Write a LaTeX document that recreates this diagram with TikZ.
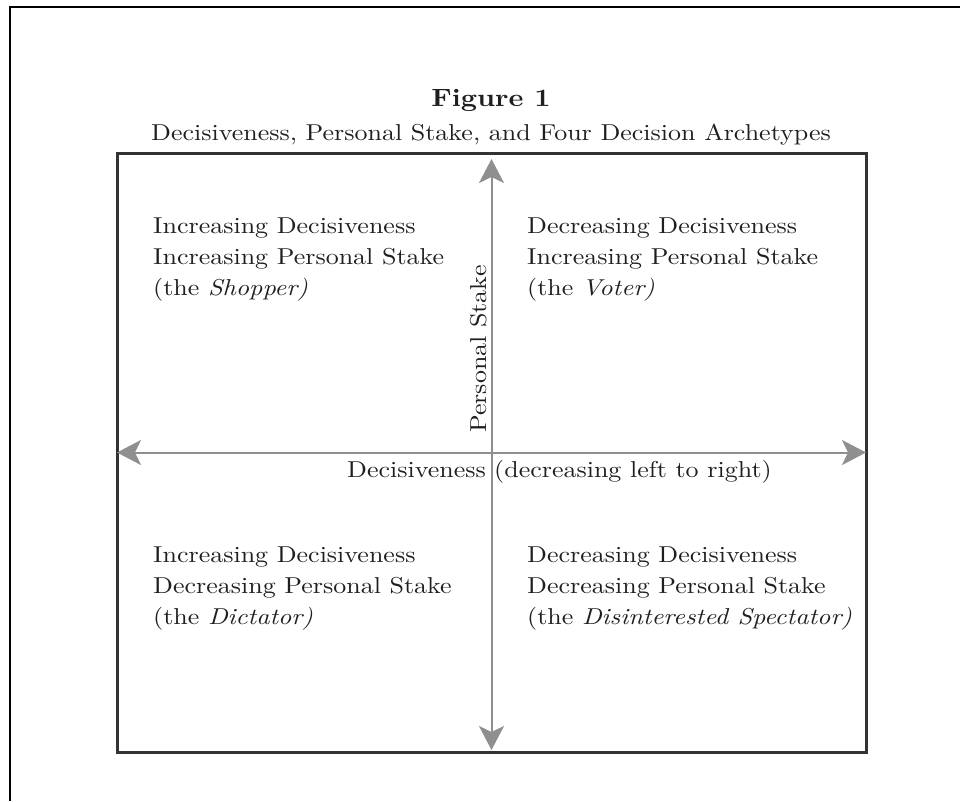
\documentclass[tikz,border=0pt]{standalone}
\usepackage{fontspec}
\setmainfont{lmroman10-regular.otf}[
  FakeStretch=1.13,
  BoldFont=lmroman10-bold.otf,
  ItalicFont=lmroman10-italic.otf,
  BoldItalicFont=lmroman10-bolditalic.otf]
\usetikzlibrary{arrows.meta}
\definecolor{inkgray}{gray}{0.12}
\definecolor{framegray}{gray}{0.2}
\definecolor{axisgray}{gray}{0.56}
\begin{document}
\begin{tikzpicture}[x=1pt,y=-1pt]

		\tikzset{
		  quadtext/.style={
			anchor=north west,
			align=left,
			inner sep=0pt,
			text=inkgray,
			font=\fontsize{23}{31}\selectfont,
		  },
		  axislabel/.style={
			inner sep=0pt,
			text=inkgray,
			font=\fontsize{23}{31}\selectfont,
		  },
		  axis/.style={
			draw=axisgray,
			line width=2pt,
			{Stealth[length=24pt,width=25pt,inset=6pt]}-{Stealth[length=24pt,width=25pt,inset=6pt]},
		  },
		}
		\useasboundingbox (0,0) rectangle (960,801);
		% outer page frame
		\draw[line width=2pt] (10,801)--(10,7)--(960,7);
		% headings
		\node[axislabel,anchor=base,font=\fontsize{25}{31}\selectfont\bfseries] (figtitle) at (491,106) {Figure 1};
		\node[axislabel,anchor=base] (figsubtitle) at (491,140) {Decisiveness, Personal Stake, and Four Decision Archetypes};
		% box
		\node[draw=framegray,line width=3pt,inner sep=0pt,outer sep=0pt,minimum width=749pt,minimum height=599pt] (frame) at (491.5,452.5) {};
		% axes
		\draw[axis] (frame.west) -- (frame.east);
		\draw[axis,shorten <=6pt,shorten >=2pt] (frame.north) -- (frame.south);
		\node[axislabel,rotate=90,anchor=base west] (stakelabel) at (486,433) {Personal Stake};
		\node[axislabel,anchor=base east] (decilabel) at (486,477) {Decisiveness};
		\node[axislabel,anchor=base west] (dirlabel) at (494,477) {(decreasing left to right)};
		% quadrants
		\node[quadtext] (shopper) at (153,217.5) {Increasing Decisiveness\\Increasing Personal Stake\\(the \textit{Shopper)}};
		\node[quadtext] (voter) at (527,217.5) {Decreasing Decisiveness\\Increasing Personal Stake\\(the \textit{Voter)}};
		\node[quadtext] (dictator) at (153,546.5) {Increasing Decisiveness\\Decreasing Personal Stake\\(the \textit{Dictator)}};
		\node[quadtext] (spectator) at (527,546.5) {Decreasing Decisiveness\\Decreasing Personal Stake\\(the \textit{Disinterested Spectator)}};

	\end{tikzpicture}
\end{document}
